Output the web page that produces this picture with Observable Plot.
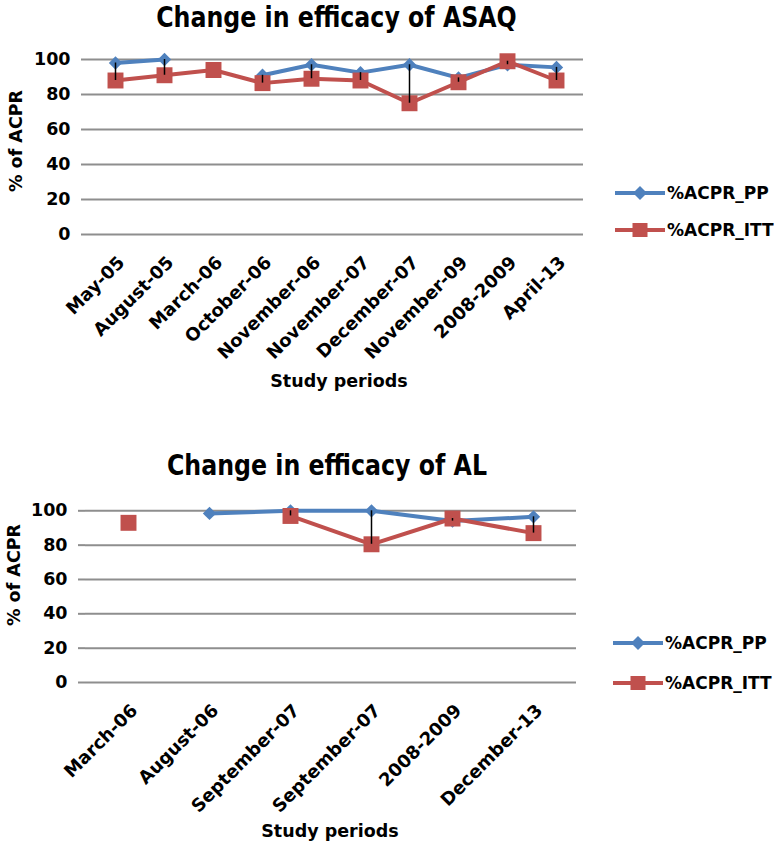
<!DOCTYPE html>
<html><head><meta charset="utf-8">
<script src="https://cdn.jsdelivr.net/npm/d3@7"></script>
<script src="https://cdn.jsdelivr.net/npm/@observablehq/plot@0.6"></script>
<style>
html,body{margin:0;padding:0;background:#fff;}
#page{position:relative;width:774px;height:845px;overflow:hidden;font-family:"DejaVu Sans",sans-serif;color:#000;background:#fff;}
#page > svg{position:absolute;left:0;}
.abs{position:absolute;}
.title{font-size:23.7px;font-weight:bold;line-height:24px;text-align:center;white-space:nowrap;transform:scaleY(1.18);transform-origin:50% 0;}
.xlab{font-size:17.5px;font-weight:bold;line-height:17.5px;text-align:center;white-space:nowrap;}
.ylab{font-size:17.5px;font-weight:bold;line-height:17.5px;white-space:nowrap;transform:translate(-50%,-50%) rotate(-90deg);}
.leg{display:flex;align-items:center;height:20px;font-size:17px;font-weight:bold;white-space:nowrap;}
</style></head><body><div id="page"></div>
<script>
// ---- data ----
const asaqPeriods = ["May-05","August-05","March-06","October-06","November-06","November-07","December-07","November-09","2008-2009","April-13"];
const asaqPP  = [98, 100, null, 91, 97, 92.5, 97, 89.5, 97, 95.5];
const asaqITT = [88, 91, 94, 86.5, 89, 88, 75, 87, 99, 88];

const alPeriods = ["March-06","August-06","September-07","September-07","2008-2009","December-13"];
const alPP  = [null, 98.5, 100, 100, 94, 96.5];
const alITT = [93, null, 97, 80.5, 95.5, 87];

const yTicks = [0, 20, 40, 60, 80, 100];
const seriesNames = ["%ACPR_PP", "%ACPR_ITT"];
const titles = ["Change in efficacy of ASAQ", "Change in efficacy of AL"];
const xTitle = "Study periods";
const yTitle = "% of ACPR";

const BLUE = "#4F81BD", RED = "#C0504D", GRID = "#8E8E8E";

const page = document.getElementById("page");

function makeChart(cfg) {
  const n = cfg.periods.length;
  const rows = cfg.periods.map((p, i) => ({i, period: p, pp: cfg.pp[i], itt: cfg.itt[i]}));
  const svg = Plot.plot({
    width: 774,
    height: cfg.height,
    marginTop: cfg.marginTop,
    marginLeft: cfg.marginLeft,
    marginRight: cfg.marginRight,
    marginBottom: cfg.marginBottom,
    style: {fontFamily: "DejaVu Sans", fontSize: "17.5px", fontWeight: "bold", color: "#000", background: "transparent", overflow: "visible"},
    x: {type: "point", domain: d3.range(n), padding: 0.5},
    y: {domain: [0, cfg.yMax]},
    marks: [
      Plot.gridY(yTicks, {stroke: GRID, strokeOpacity: 1, strokeWidth: 2}),
      Plot.axisY(yTicks, {tickSize: 7, tickPadding: 11, line: true, stroke: GRID, strokeOpacity: 1, strokeWidth: 2, label: null, fill: "#000"}),
      Plot.axisX({tickSize: 0, tickPadding: 25, dx: 6, tickRotate: -45, fontSize: 18, tickFormat: i => cfg.periods[i], label: null, fill: "#000"}),
      Plot.line(rows, {x: "i", y: "pp", stroke: BLUE, strokeWidth: 4}),
      Plot.dot(rows, {x: "i", y: "pp", symbol: "diamond2", r: 6, fill: BLUE, stroke: null}),
      Plot.line(rows, {x: "i", y: "itt", stroke: RED, strokeWidth: 4}),
      Plot.dot(rows, {x: "i", y: "itt", symbol: "square", r: 9, fill: RED, stroke: null}),
      Plot.ruleX(rows.filter(d => d.pp != null && d.itt != null), {x: "i", y1: "pp", y2: "itt", stroke: "#000", strokeWidth: 1.5})
    ]
  });
  svg.style.top = cfg.top + "px";
  page.appendChild(svg);

  const t = document.createElement("div");
  t.className = "abs title";
  t.textContent = cfg.title;
  t.style.left = (cfg.titleCx - 300) + "px"; t.style.width = "600px"; t.style.top = cfg.titleTop + "px";
  page.appendChild(t);

  const xl = document.createElement("div");
  xl.className = "abs xlab";
  xl.textContent = xTitle;
  xl.style.left = (cfg.xlabCx - 100) + "px"; xl.style.width = "200px"; xl.style.top = cfg.xlabTop + "px";
  page.appendChild(xl);

  const yl = document.createElement("div");
  yl.className = "abs ylab";
  yl.textContent = yTitle;
  yl.style.left = cfg.ylabX + "px"; yl.style.top = cfg.ylabY + "px";
  page.appendChild(yl);

  // legend
  [[seriesNames[0], BLUE, "diamond", cfg.legPP], [seriesNames[1], RED, "square", cfg.legITT]].forEach(([name, color, shape, cy]) => {
    const item = document.createElement("div");
    item.className = "abs leg";
    item.style.left = cfg.legX + "px";
    item.style.top = (cy - 10) + "px";
    const marker = shape === "diamond"
      ? `<path d="M25,3 L32,10 L25,17 L18,10 Z" fill="${color}"/>`
      : `<rect x="17.5" y="3" width="15" height="14" fill="${color}"/>`;
    item.innerHTML = `<svg width="52" height="20" viewBox="0 0 52 20"><line x1="0" y1="10" x2="50" y2="10" stroke="${color}" stroke-width="4"/>${marker}</svg><span>${name}</span>`;
    page.appendChild(item);
  });
}

makeChart({
  periods: asaqPeriods, pp: asaqPP, itt: asaqITT, title: titles[0],
  top: 0, height: 400, marginTop: 52, marginLeft: 88, marginRight: 191, marginBottom: 166, yMax: 104,
  titleCx: 336.5, titleTop: 3, xlabCx: 339, xlabTop: 373, ylabX: 17, ylabY: 141,
  legX: 615, legPP: 193, legITT: 230
});

makeChart({
  periods: alPeriods, pp: alPP, itt: alITT, title: titles[1],
  top: 420, height: 425, marginTop: 80, marginLeft: 85, marginRight: 198, marginBottom: 163, yMax: 106,
  titleCx: 327, titleTop: 451, xlabCx: 330, xlabTop: 823, ylabX: 15, ylabY: 575,
  legX: 613, legPP: 643, legITT: 683
});
</script></body></html>
